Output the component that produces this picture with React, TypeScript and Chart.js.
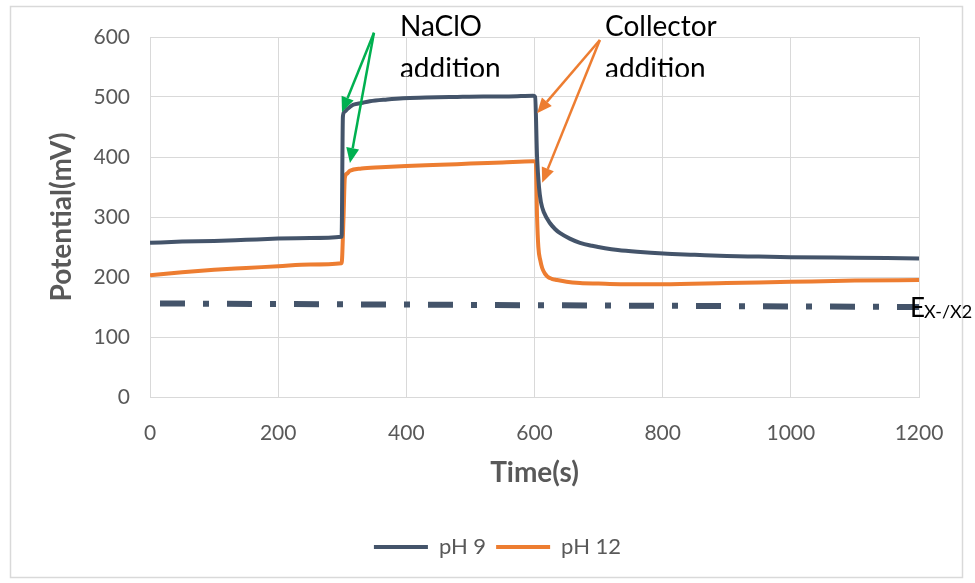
import React, { useEffect, useRef } from 'react';
import { Chart, registerables } from 'chart.js';

Chart.register(...registerables);

// ---- data ----
const seriesLabels = ['pH 9', 'pH 12'];

const ph9Time = [0, 50, 100, 150, 200, 250, 299, 301, 303, 308, 317, 330, 343, 370, 395, 430, 473, 520, 560, 598, 601, 604, 607, 610, 615, 624, 632, 640, 655, 671, 690, 710, 730, 760, 801, 850, 900, 950, 1000, 1100, 1200];
const ph9Values = [257, 259, 260, 262, 264, 265, 267, 467, 475, 480, 487, 490, 493, 496, 498, 499, 500, 501, 501, 502, 500, 400, 350, 325, 307, 290, 280, 273, 264, 257, 252, 248, 245, 242, 239, 237, 235, 234, 233, 232, 231];

const ph12Time = [0, 50, 100, 150, 200, 250, 299, 302, 304, 307, 312, 330, 360, 400, 453, 500, 550, 598, 602, 604, 606, 609, 612, 616, 620, 627, 635, 650, 671, 700, 734, 800, 900, 1000, 1100, 1200];
const ph12Values = [203, 208, 212, 215, 218, 221, 223, 300, 365, 372, 377, 381, 383, 385, 387, 389, 391, 393, 392, 300, 250, 228, 215, 206, 201, 197, 195, 192, 190, 189, 188, 188, 190, 192, 194, 195];

const refTime = [0, 1200];
const refValues = [156, 150];

const xMin = 0, xMax = 1200, xStep = 200;
const yMin = 0, yMax = 600, yStep = 100;

const xTitle = 'Time(s)';
const yTitle = 'Potential(mV)';

// annotation anchors in data units (time, potential)
const naclo = { text: ['NaClO', 'addition'], at: [390, 602] };
const collector = { text: ['Collector', 'addition'], at: [710, 602] };
const greenTail = [349.5, 607];
const greenHeads = [[299.6, 475], [312, 390]];
const orangeTail = [702, 595];
const orangeHeads = [[604, 473], [612, 357]];
const eLabel = { main: 'E', sub: 'X-/X2', at: [1186, 133] };

const toPoints = (t: number[], v: number[]) => t.map((x, i) => ({ x, y: v[i] }));

function drawArrow(ctx: CanvasRenderingContext2D, x1: number, y1: number, x2: number, y2: number, color: string) {
  const ang = Math.atan2(y2 - y1, x2 - x1);
  const len = 15, half = 6.5;
  const bx = x2 - Math.cos(ang) * len, by = y2 - Math.sin(ang) * len;
  ctx.save();
  ctx.strokeStyle = color;
  ctx.fillStyle = color;
  ctx.lineWidth = 2.5;
  ctx.beginPath();
  ctx.moveTo(x1, y1);
  ctx.lineTo(bx, by);
  ctx.stroke();
  ctx.beginPath();
  ctx.moveTo(x2, y2);
  ctx.lineTo(bx + Math.sin(ang) * half, by - Math.cos(ang) * half);
  ctx.lineTo(bx - Math.sin(ang) * half, by + Math.cos(ang) * half);
  ctx.closePath();
  ctx.fill();
  ctx.restore();
}

const decorPlugin = {
  id: 'decor',
  afterLayout(chart: any) {
    // centre the legend under the plot the way the original does
    const lg = chart.legend;
    if (lg) { lg.left += 38; lg.right += 38; }
  },
  beforeDraw(chart: any) {
    const { ctx, width, height } = chart;
    ctx.save();
    ctx.fillStyle = '#ffffff';
    ctx.fillRect(0, 0, width, height);
    ctx.strokeStyle = '#d9d9d9';
    ctx.lineWidth = 1.5;
    ctx.strokeRect(10.5, 6.5, 952, 571);
    ctx.restore();
  },
  afterDraw(chart: any) {
    const { ctx } = chart;
    const xs = chart.scales.x, ys = chart.scales.y;
    const px = (t: number) => xs.getPixelForValue(t);
    const py = (v: number) => ys.getPixelForValue(v);

    ctx.save();
    ctx.fillStyle = '#000000';
    ctx.font = '28px Lato';
    ctx.textBaseline = 'alphabetic';
    ctx.textAlign = 'left';
    for (const a of [naclo, collector]) {
      const x = px(a.at[0]), y = py(a.at[1]);
      ctx.fillText(a.text[0], x, y);
      ctx.save();
      ctx.beginPath();
      ctx.rect(x - 5, y + 5, 200, 36);
      ctx.clip();
      ctx.fillText(a.text[1], x, y + 42);
      ctx.restore();
    }
    for (const h of greenHeads) drawArrow(ctx, px(greenTail[0]), py(greenTail[1]), px(h[0]), py(h[1]), '#00b050');
    for (const h of orangeHeads) drawArrow(ctx, px(orangeTail[0]), py(orangeTail[1]), px(h[0]), py(h[1]), '#ed7d31');

    const ex = px(eLabel.at[0]), ey = py(eLabel.at[1]);
    ctx.font = '26px Lato';
    ctx.fillText(eLabel.main, ex, ey);
    const ew = ctx.measureText(eLabel.main).width;
    ctx.font = '18px Lato';
    ctx.fillText(eLabel.sub, ex + ew - 1, ey + 1);
    ctx.restore();
  },
};

export default function App() {
  const ref = useRef<HTMLCanvasElement | null>(null);

  useEffect(() => {
    document.body.style.margin = '0';
    const canvas = ref.current;
    if (!canvas) return;
    Chart.defaults.font.family = 'Lato';
    const chart = new Chart(canvas, {
      type: 'line',
      data: {
        datasets: [
          {
            label: seriesLabels[0],
            data: toPoints(ph9Time, ph9Values),
            borderColor: '#44546a',
            backgroundColor: '#44546a',
            borderWidth: 4,
            pointRadius: 0,
            cubicInterpolationMode: 'monotone',
          },
          {
            label: seriesLabels[1],
            data: toPoints(ph12Time, ph12Values),
            borderColor: '#ed7d31',
            backgroundColor: '#ed7d31',
            borderWidth: 4,
            pointRadius: 0,
            cubicInterpolationMode: 'monotone',
          },
          {
            label: 'ref',
            data: toPoints(refTime, refValues),
            borderColor: '#44546a',
            borderWidth: 6,
            pointRadius: 0,
            borderDash: [25, 18, 6, 18],
            borderDashOffset: 57,
            borderCapStyle: 'butt',
          },
        ],
      },
      options: {
        animation: false,
        responsive: false,
        maintainAspectRatio: false,
        layout: { padding: { left: 0, right: 56, top: 37, bottom: 15 } },
        plugins: {
          tooltip: { enabled: false },
          legend: {
            position: 'bottom',
            labels: {
              usePointStyle: true,
              pointStyle: 'line',
              pointStyleWidth: 54,
              boxHeight: 22,
              padding: 10,
              color: '#595959',
              font: { family: 'Lato', size: 22 },
              filter: (item: any) => item.datasetIndex < 2,
            },
          },
        },
        scales: {
          x: {
            type: 'linear',
            min: xMin,
            max: xMax,
            afterFit: (s: any) => { s.height = 129; },
            ticks: { stepSize: xStep, color: '#595959', font: { size: 21 }, padding: 24, maxRotation: 0, callback: (v: any) => String(v) },
            grid: { color: '#d9d9d9', drawTicks: false },
            border: { color: '#d9d9d9' },
            title: { display: true, text: xTitle, color: '#595959', font: { size: 28, weight: 'bold' }, padding: { top: 0, bottom: 36 } },
          },
          y: {
            min: yMin,
            max: yMax,
            afterFit: (s: any) => { s.width = 150; },
            ticks: { stepSize: yStep, color: '#595959', font: { size: 21 }, padding: 20, callback: (v: any) => String(v) },
            grid: { color: '#d9d9d9', drawTicks: false },
            border: { color: '#d9d9d9' },
            title: { display: true, text: yTitle, color: '#595959', font: { size: 28, weight: 'bold' }, padding: { top: 45, bottom: 0 } },
          },
        },
      },
      plugins: [decorPlugin],
    } as any);
    return () => chart.destroy();
  }, []);

  return (
    <div style={{ width: 975, height: 583 }}>
      <canvas ref={ref} width={975} height={583} style={{ display: 'block' }} />
    </div>
  );
}
